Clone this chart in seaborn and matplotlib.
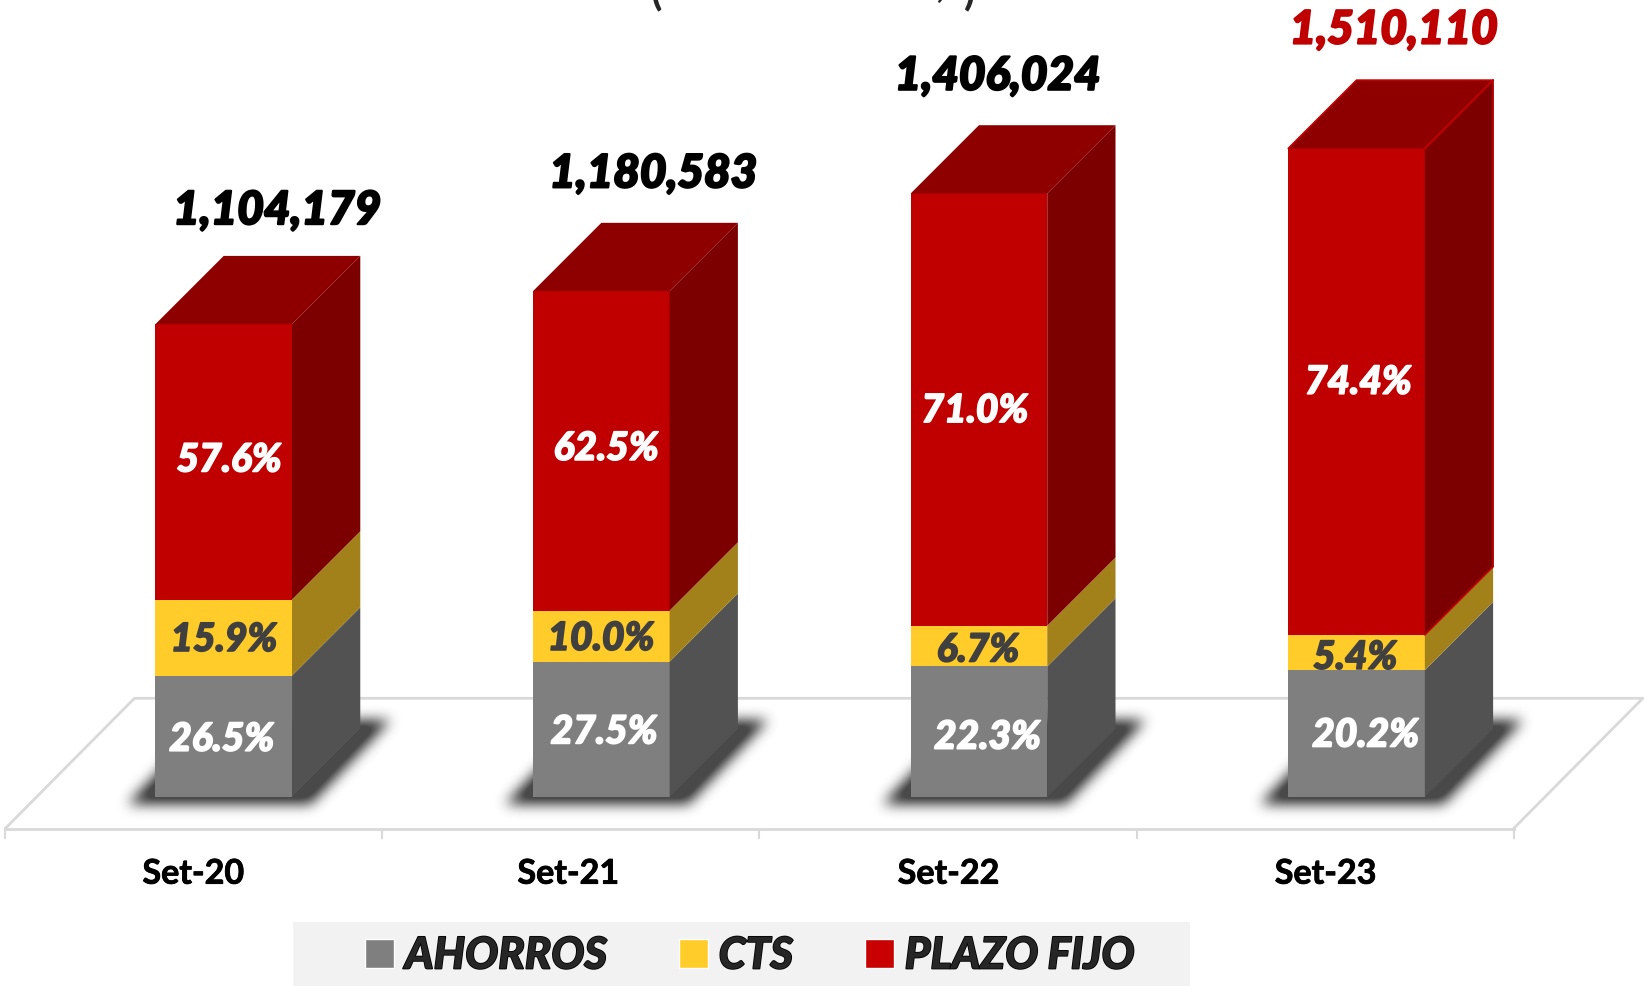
import numpy as np
import pandas as pd
import matplotlib
matplotlib.use('Agg')
import matplotlib.pyplot as plt
import matplotlib.patheffects as pe
from matplotlib.patches import Patch, Polygon, Rectangle
import seaborn as sns

# Data
meses = ['Set-20', 'Set-21', 'Set-22', 'Set-23']
totales = [1104179, 1180583, 1406024, 1510110]
ahorros = [26.5, 27.5, 22.3, 20.2]
cts = [15.9, 10.0, 6.7, 5.4]
plazo_fijo = [57.6, 62.5, 71.0, 74.4]
series = ['AHORROS', 'CTS', 'PLAZO FIJO']

# Label positions, in pixels of the 1568 wide view
W, H = 1568, 940
pos_totales = [(264, 198), (622, 163), (950, 70), (1327, 26)]
pos_ahorros = [(211, 702), (575, 695), (940, 700), (1300, 698)]
pos_cts = [(213, 607), (572, 606), (931, 617), (1290, 624)]
pos_plazo = [(218, 436), (577, 425), (928, 389), (1293, 362)]

# Scale: one bar slot and one pixel of value
SLOT = 359.5
VAL_PX = 2425
DX = 65 / SLOT
DY = 65 * VAL_PX
BAR_W = 130 / SLOT
# the value axis does not start at zero, the bars are cut a little at the base
EJE_MIN = 5 * VAL_PX

GRIS, GRIS_L = '#7F7F7F', '#525252'
AMA, AMA_L = '#FFCC29', '#A3811A'
ROJO, ROJO_T, ROJO_L = '#C00000', '#8E0000', '#7C0000'
PISO = '#D9D9D9'
FONT = 'Lato'

df = pd.DataFrame({'mes': meses, 'total': totales})
df['v_ahorros'] = df['total'] * np.array(ahorros) / 100
df['v_cts'] = df['total'] * np.array(cts) / 100
df['v_plazo'] = df['total'] * np.array(plazo_fijo) / 100
df['c1'] = df['v_ahorros'] - EJE_MIN
df['c2'] = df['c1'] + df['v_cts']
df['c3'] = df['c2'] + df['v_plazo']

sns.set_theme(style='white')
plt.rcParams['font.family'] = [FONT, 'DejaVu Sans']

fig = plt.figure(figsize=(16.47, 9.87), dpi=100, facecolor='white')
ax = fig.add_axes([0, (H - 790) / H, 1, 790 / H])
ax.set_facecolor('none')

# Cumulative bars, tallest first, so each one covers the one before
sns.barplot(data=df, x='mes', y='c3', color=ROJO, saturation=1, width=BAR_W, ax=ax, zorder=4, linewidth=0)
sns.barplot(data=df, x='mes', y='c2', color=AMA, saturation=1, width=BAR_W, ax=ax, zorder=4, linewidth=0)
sns.barplot(data=df, x='mes', y='c1', color=GRIS, saturation=1, width=BAR_W, ax=ax, zorder=4, linewidth=0)

x0, x1 = -213 / SLOT, (W - 213) / SLOT
y0, y1 = -30 * VAL_PX, 760 * VAL_PX
ax.set_xlim(x0, x1)
ax.set_ylim(y0, y1)
ax.set_xlabel('')
ax.set_ylabel('')
ax.set_yticks([])

# Floor
fl, fr = (5 - 213) / SLOT, (1441 - 213) / SLOT
fb = 123 / SLOT
fh = 124 * VAL_PX
ax.plot([fl, fl + fb, fr + fb, fr], [y0, y0 + fh, y0 + fh, y0], color=PISO, lw=2, zorder=1, clip_on=False)

# Blurred shadows under the bars
res = 2
gx = np.linspace(x0, x1, W * res)
gy = np.linspace(y0, y1, 790 * res)
X, Y = np.meshgrid(gx, gy)
mask = np.zeros(X.shape)
for i in range(len(meses)):
    v = (Y - (-8 * VAL_PX)) / (80 * VAL_PX)
    u = (X - i) - v * 76 / SLOT
    mask[(v >= 0) & (v <= 1) & (u >= -92 / SLOT) & (u <= 82 / SLOT)] = 1
for axis in (0, 1):
    for _ in range(3):
        k = np.ones(12 * res) / (12 * res)
        mask = np.apply_along_axis(lambda m: np.convolve(m, k, mode='same'), axis, mask)
rgba = np.zeros(mask.shape + (4,))
rgba[..., :3] = 0.25
rgba[..., 3] = np.clip(mask * 1.15, 0, 0.95)
ax.imshow(rgba, extent=(x0, x1, y0, y1), origin='lower', aspect='auto', zorder=2, interpolation='bilinear')
ax.set_xlim(x0, x1)
ax.set_ylim(y0, y1)

# Side and top faces follow the bar values
for i in range(len(meses)):
    der = i + BAR_W / 2
    izq = i - BAR_W / 2
    niveles = [0, df['c1'][i], df['c2'][i], df['c3'][i]]
    for low, high, col in zip(niveles[:-1], niveles[1:], [GRIS_L, AMA_L, ROJO_L]):
        ax.add_patch(Polygon([(der, low), (der + DX, low + DY), (der + DX, high + DY), (der, high)],
                             closed=True, facecolor=col, edgecolor='none', zorder=4))
    top = niveles[-1]
    ax.add_patch(Polygon([(izq, top), (der, top), (der + DX, top + DY), (izq + DX, top + DY)],
                         closed=True, facecolor=ROJO_T, edgecolor='none', zorder=4))

# The last bar is highlighted with a thin red edge
i = 3
der, izq = i + BAR_W / 2, i - BAR_W / 2
top = df['c3'][i]
ax.plot([izq, izq + DX, der + DX, der + DX], [top, top + DY, top + DY, df['c2'][i] + DY],
        color=ROJO, lw=1.2, zorder=5)
ax.plot([der, der + DX], [top, top + DY], color=ROJO, lw=1.5, zorder=5)
ax.plot([der, der + DX], [df['c2'][i], df['c2'][i] + DY], color=ROJO, lw=1.2, zorder=5)

# Axis: ticks on the slot edges, labels on their own minor ticks
for s in ['top', 'left', 'right']:
    ax.spines[s].set_visible(False)
ax.spines['bottom'].set_color(PISO)
ax.spines['bottom'].set_linewidth(2)
ax.spines['bottom'].set_bounds(fl, fr)
ax.set_xticks([fl + k * (fr - fl) / 4 for k in range(5)])
ax.set_xticklabels([])
ax.set_xticks([(184 - 213) / SLOT, (541 - 213) / SLOT, (903 - 213) / SLOT, (1262 - 213) / SLOT], minor=True)
ax.set_xticklabels(meses, minor=True, fontsize=24.5, fontweight='bold', color='black', family=FONT)
ax.tick_params(axis='x', which='major', length=7.5, width=1.5, color=PISO, bottom=True)
ax.tick_params(axis='x', which='minor', length=0, pad=21, bottom=True)
for lab in ax.get_xticklabels(minor=True):
    lab.set_path_effects([pe.withStroke(linewidth=0.6, foreground='black')])


def etiqueta(pos, txt, size, color, dy=3, grosor=1.2):
    t = fig.text(pos[0] / W, 1 - (pos[1] + dy) / H, txt, ha='center', va='center', fontsize=size, color=color,
                 fontweight='black', style='italic', family=FONT, zorder=10)
    t.set_path_effects([pe.withStroke(linewidth=grosor, foreground=color)])


for i in range(len(meses)):
    col = ROJO if i == 3 else 'black'
    etiqueta(pos_totales[i], f'{totales[i]:,}', 33, col, dy=4, grosor=1.6)
    etiqueta(pos_plazo[i], f'{plazo_fijo[i]:.1f}%', 28, 'white')
    etiqueta(pos_cts[i], f'{cts[i]:.1f}%', 28, '#404040')
    etiqueta(pos_ahorros[i], f'{ahorros[i]:.1f}%', 28, 'white')

# Legend
handles = [Patch(facecolor=GRIS), Patch(facecolor=AMA), Patch(facecolor='#C80000')]
leg = fig.legend(handles, series, ncol=3, loc='center', bbox_to_anchor=(714 / W, 1 - 911 / H),
                 frameon=False, handlelength=0.65, handleheight=0.65, handletextpad=0.25, columnspacing=1.65,
                 prop={'family': FONT, 'weight': 'black', 'style': 'italic', 'size': 31.5})
for t in leg.get_texts():
    t.set_path_effects([pe.withStroke(linewidth=1.2, foreground='black')])
fig.add_artist(Rectangle((279 / W, 0), (1133 - 279) / W, (H - 879) / H, transform=fig.transFigure,
                         facecolor='#F2F2F2', edgecolor='none', zorder=-1))

# Cut-off bits of the title at the top edge
fig.text(625 / W, 1 + 8 / H, '(', fontsize=30, fontweight='bold', family=FONT, ha='center', va='center')
fig.text(895 / W, 1 + 14 / H, ',', fontsize=30, fontweight='bold', family=FONT, ha='center', va='center')
fig.text(923 / W, 1 + 8 / H, ')', fontsize=30, fontweight='bold', family=FONT, ha='center', va='center')

fig.savefig('out.png', dpi=100)
